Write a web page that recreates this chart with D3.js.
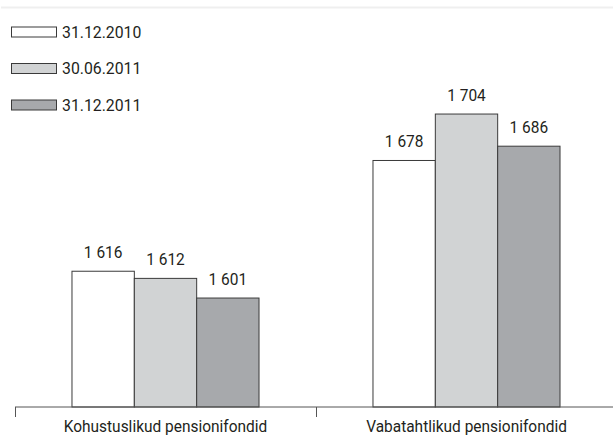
<!DOCTYPE html>
<html>
<head>
<meta charset="utf-8">
<script src="https://cdn.jsdelivr.net/npm/d3@7"></script>
<style>
  body { margin: 0; background: #fff; }
  text { font-family: "Roboto", "Liberation Sans", sans-serif; fill: #231f20; font-size: 17px; }
</style>
</head>
<body>
<div id="chart"></div>
<script>
// chart data
const groups = ["Kohustuslikud pensionifondid", "Vabatahtlikud pensionifondid"];
const dates = ["31.12.2010", "30.06.2011", "31.12.2011"];
const kohustuslikud = [1616, 1612, 1601];
const vabatahtlikud = [1678, 1704, 1686];

const colors = ["#ffffff", "#d1d3d4", "#a7a9ac"];

let width = 613;
let height = 435;
// the original font is condensed, so squeeze text horizontally
const squeeze = 0.91;

let svg = d3.select("#chart").append("svg")
  .attr("width", width)
  .attr("height", height);

// faint rule on top
svg.append("line")
  .attr("x1", 1).attr("x2", width)
  .attr("y1", 7.5).attr("y2", 7.5)
  .attr("stroke", "#efefef")
  .attr("stroke-width", 2);

let x = d3.scaleBand().domain(groups).range([15, 617]);
let xInner = d3.scaleBand().domain(dates)
  .range([0, x.bandwidth()])
  .paddingOuter(0.914);

// axis does not start at zero in the original
let y = d3.scaleLinear().domain([1540, 1760]).range([407, 14]);

let rows = [];
groups.forEach((g, gi) => {
  let vals = gi === 0 ? kohustuslikud : vabatahtlikud;
  dates.forEach((d, i) => rows.push({ group: g, date: d, value: vals[i], i: i }));
});

let bars = svg.append("g");
bars.selectAll("rect")
  .data(rows)
  .enter()
  .append("rect")
  .attr("x", d => x(d.group) + xInner(d.date))
  .attr("y", d => y(d.value))
  .attr("width", xInner.bandwidth())
  .attr("height", d => y.range()[0] - y(d.value))
  .attr("fill", d => colors[d.i])
  .attr("stroke", "#3a3a3a")
  .attr("stroke-width", 1);

bars.selectAll("text")
  .data(rows)
  .enter()
  .append("text")
  .attr("transform", d => `translate(${x(d.group) + xInner(d.date) + xInner.bandwidth() / 2},${y(d.value) - 13}) scale(${squeeze},1)`)
  .attr("text-anchor", "middle")
  .text(d => d3.format(",")(d.value).replace(",", " "));

// x axis with ticks at band edges
let axis = svg.append("g").attr("transform", "translate(0,407)");
axis.append("line")
  .attr("x1", 15).attr("x2", width)
  .attr("stroke", "#555");
axis.selectAll(".tick")
  .data(groups)
  .enter()
  .append("line")
  .attr("x1", d => x(d) + 0.5).attr("x2", d => x(d) + 0.5)
  .attr("y1", 0).attr("y2", 10)
  .attr("stroke", "#555");
axis.selectAll(".lbl")
  .data(groups)
  .enter()
  .append("text")
  .attr("transform", d => `translate(${x(d) + x.bandwidth() / 2},25) scale(${squeeze},1)`)
  .attr("text-anchor", "middle")
  .text(d => d);

// legend
let legend = svg.append("g");
let ly = d3.scalePoint().domain(dates).range([32, 105]);
legend.selectAll("rect")
  .data(dates)
  .enter()
  .append("rect")
  .attr("x", 11.5)
  .attr("y", d => ly(d) - 5)
  .attr("width", 45)
  .attr("height", 10)
  .attr("fill", (d, i) => colors[i])
  .attr("stroke", "#3a3a3a");
legend.selectAll("text")
  .data(dates)
  .enter()
  .append("text")
  .attr("transform", d => `translate(62,${ly(d)}) scale(0.93,1)`)
  .attr("dy", "0.35em")
  .text(d => d);
</script>
</body>
</html>
